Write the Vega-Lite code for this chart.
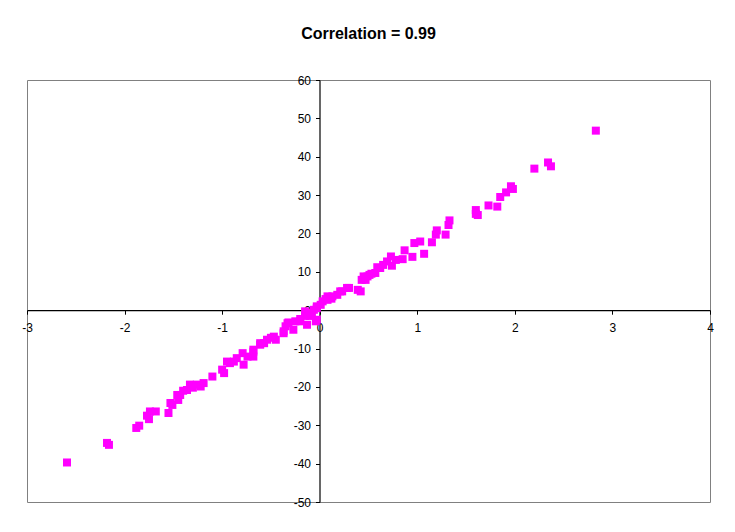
{
  "$schema": "https://vega.github.io/schema/vega-lite/v6.json",
  "autosize": {"type": "none"},
  "width": 683,
  "height": 422,
  "padding": {"left": 27, "top": 80, "right": 25, "bottom": 30},
  "background": "white",
  "config": {
    "view": {"stroke": "#808080", "strokeWidth": 1},
    "font": "Liberation Sans"
  },
  "title": {
    "text": "Correlation = 0.99",
    "fontSize": 16,
    "fontWeight": "bold",
    "font": "Liberation Sans",
    "color": "black",
    "anchor": "middle",
    "offset": 32
  },
  "data": {
    "values": [
      {"x": 2.83, "y": 46.8}, {"x": 2.20, "y": 36.9}, {"x": 2.34, "y": 38.5}, {"x": 2.37, "y": 37.5},
      {"x": 1.96, "y": 32.3}, {"x": 1.98, "y": 31.6}, {"x": 1.91, "y": 30.7}, {"x": 1.85, "y": 29.5},
      {"x": 1.82, "y": 27.0}, {"x": 1.73, "y": 27.3}, {"x": 1.60, "y": 26.1}, {"x": 1.62, "y": 24.8},
      {"x": 1.60, "y": 25.1}, {"x": 1.33, "y": 23.4}, {"x": 1.32, "y": 22.2}, {"x": 1.29, "y": 19.7},
      {"x": 1.20, "y": 20.8}, {"x": 1.19, "y": 19.7}, {"x": 1.15, "y": 17.7}, {"x": 1.07, "y": 14.7},
      {"x": 1.03, "y": 17.9}, {"x": 0.97, "y": 17.5}, {"x": 0.95, "y": 13.9}, {"x": 0.87, "y": 15.6},
      {"x": 0.85, "y": 13.3}, {"x": 0.73, "y": 14.0}, {"x": 0.78, "y": 13.1}, {"x": 0.74, "y": 11.6},
      {"x": 0.69, "y": 12.7}, {"x": 0.59, "y": 11.2}, {"x": 0.57, "y": 9.7}, {"x": 0.62, "y": 11.0},
      {"x": 0.51, "y": 9.2}, {"x": 0.49, "y": 8.8}, {"x": 0.47, "y": 7.9}, {"x": 0.43, "y": 7.9},
      {"x": 0.42, "y": 4.9}, {"x": 0.39, "y": 5.3}, {"x": 0.28, "y": 5.8}, {"x": 0.23, "y": 4.9},
      {"x": 0.18, "y": 4.0}, {"x": 0.13, "y": 3.6}, {"x": 0.08, "y": 2.7}, {"x": 0.03, "y": 2.3},
      {"x": 0.01, "y": 1.4}, {"x": -0.03, "y": 0.5}, {"x": -0.08, "y": -0.8}, {"x": 0.06, "y": 2.9},
      {"x": 0.21, "y": 4.9}, {"x": 0.30, "y": 5.8}, {"x": 0.45, "y": 8.8}, {"x": 0.08, "y": 3.6},
      {"x": -0.03, "y": 1.0}, {"x": 0.53, "y": 9.5}, {"x": 0.65, "y": 11.8}, {"x": 0.12, "y": 3.0},
      {"x": -0.15, "y": -1.5}, {"x": -0.20, "y": -2.3}, {"x": -0.25, "y": -2.9}, {"x": -0.32, "y": -3.2},
      {"x": -0.35, "y": -4.2}, {"x": -0.15, "y": -0.3}, {"x": -0.03, "y": -2.5}, {"x": -0.13, "y": -3.8},
      {"x": -0.27, "y": -5.1}, {"x": -0.37, "y": -6.0}, {"x": -0.33, "y": -3.4}, {"x": -0.47, "y": -6.9},
      {"x": -0.54, "y": -7.7}, {"x": -0.61, "y": -8.6}, {"x": -0.68, "y": -10.3}, {"x": -0.74, "y": -12.1},
      {"x": -0.78, "y": -14.2}, {"x": -0.79, "y": -11.2}, {"x": -0.37, "y": -5.5}, {"x": -0.61, "y": -9.0},
      {"x": -0.68, "y": -10.8}, {"x": -0.88, "y": -13.4}, {"x": -0.95, "y": -13.4}, {"x": -1.00, "y": -15.5},
      {"x": -0.98, "y": -16.4}, {"x": -1.10, "y": -17.3}, {"x": -1.19, "y": -19.0}, {"x": -1.26, "y": -19.4},
      {"x": -1.33, "y": -19.4}, {"x": -1.36, "y": -20.8}, {"x": -1.43, "y": -22.1}, {"x": -1.45, "y": -23.4},
      {"x": -1.53, "y": -24.2}, {"x": -1.55, "y": -26.8}, {"x": -2.59, "y": -39.7}, {"x": -2.18, "y": -34.6},
      {"x": -2.16, "y": -35.1}, {"x": -1.88, "y": -30.7}, {"x": -1.85, "y": -30.1}, {"x": -1.77, "y": -27.5},
      {"x": -1.74, "y": -26.4}, {"x": -1.68, "y": -26.4}, {"x": -1.75, "y": -28.4}, {"x": -1.51, "y": -24.7},
      {"x": -1.46, "y": -22.1}, {"x": -1.22, "y": -19.9}, {"x": -0.92, "y": -13.8}, {"x": -0.68, "y": -12.1},
      {"x": -0.57, "y": -8.6}, {"x": -0.45, "y": -7.7}, {"x": -0.20, "y": -2.9}, {"x": -0.13, "y": -0.8},
      {"x": -0.06, "y": 0.1}, {"x": -0.04, "y": -2.9}, {"x": -1.40, "y": -21.0}, {"x": -1.30, "y": -20.2},
      {"x": -0.85, "y": -12.5}, {"x": -0.50, "y": -7.2}, {"x": -0.10, "y": -1.5}
    ]
  },
  "mark": {"type": "point", "shape": "square", "filled": true, "size": 64, "color": "#FF00FF", "opacity": 1, "strokeWidth": 0},
  "encoding": {
    "x": {
      "field": "x", "type": "quantitative",
      "scale": {"domain": [-3, 4], "nice": false, "zero": false},
      "axis": {
        "title": null, "orient": "bottom", "offset": -191.8,
        "values": [-3, -2, -1, 0, 1, 2, 3, 4],
        "labelExpr": "toString(datum.value)",
        "grid": false, "domainColor": "black", "domainWidth": 1.2,
        "tickColor": "black", "tickSize": 4, "labelPadding": 8,
        "labelFont": "Liberation Sans", "labelFontSize": 12, "labelColor": "black",
        "labelFlush": false, "labelOverlap": false
      }
    },
    "y": {
      "field": "y", "type": "quantitative",
      "scale": {"domain": [-50, 60], "nice": false, "zero": false},
      "axis": {
        "title": null, "orient": "left", "offset": -292.5,
        "values": [-50, -40, -30, -20, -10, 0, 10, 20, 30, 40, 50, 60],
        "labelExpr": "toString(datum.value)",
        "grid": false, "domainColor": "black", "domainWidth": 1.2,
        "tickColor": "black", "tickSize": 4, "labelPadding": 5,
        "labelFont": "Liberation Sans", "labelFontSize": 12, "labelColor": "black",
        "labelFlush": false, "labelOverlap": false
      }
    }
  }
}
